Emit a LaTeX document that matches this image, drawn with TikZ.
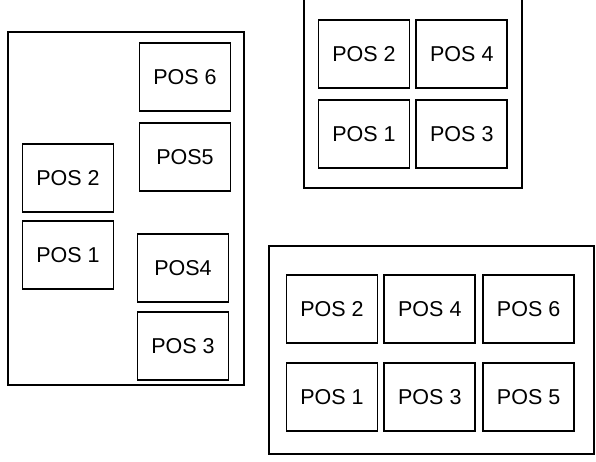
\documentclass[tikz,border=0pt]{standalone}
\usepackage{fontspec}
\setmainfont{Liberation Sans}
\usetikzlibrary{positioning}

\begin{document}
\begin{tikzpicture}[x=1pt,y=-1pt]
  \tikzset{every node/.style={shape=rectangle,draw,line width=1.8pt,font=\fontsize{21.5}{25}\selectfont,text centered,inner sep=0pt,minimum width=91pt,minimum height=68pt}};
  \clip (0,0) rectangle (596,461);
  \fill[white] (0,0) rectangle (596,461);
  % frames
  \draw[line width=1.8pt] (8,32) rectangle (244,385);
  \draw[line width=1.8pt] (304,-10) rectangle (522,188);
  \draw[line width=1.8pt] (269,246) rectangle (594,454);
  % left frame
  \node (l6) at (185,77) {POS 6};
  \node [below=10pt of l6] (l5) {POS5};
  \node (l4) at (183,268) {POS4};
  \node [below=8pt of l4] (l3) {POS 3};
  \node (l2) at (68,178) {POS 2};
  \node [below=7pt of l2] (l1) {POS 1};
  % top right frame
  \node (t2) at (364,54) {POS 2};
  \node [right=5pt of t2] (t4) {POS 4};
  \node [below=10pt of t2] (t1) {POS 1};
  \node [right=5pt of t1] (t3) {POS 3};
  % bottom right frame
  \node (b2) at (332,309) {POS 2};
  \node [right=5pt of b2] (b4) {POS 4};
  \node [right=6pt of b4] (b6) {POS 6};
  \node [below=18pt of b2] (b1) {POS 1};
  \node [right=5pt of b1] (b3) {POS 3};
  \node [right=6pt of b3] (b5) {POS 5};
\end{tikzpicture}
\end{document}
